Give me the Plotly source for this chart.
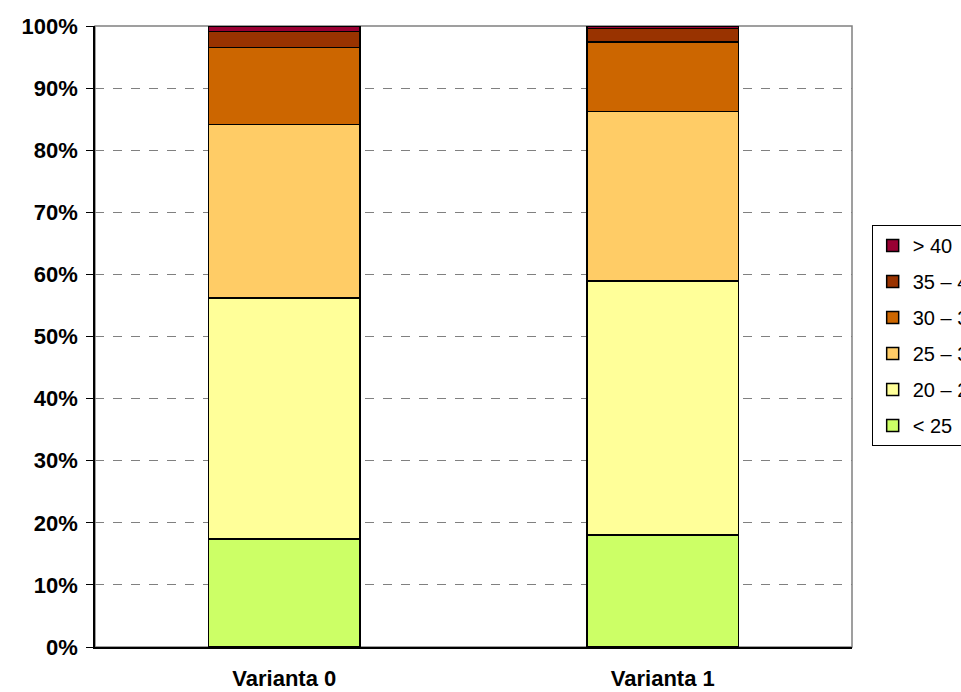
import plotly.graph_objects as go

categories = ["Varianta 0", "Varianta 1"]
series_names = ["< 25", "20 – 25", "25 – 30", "30 – 35", "35 – 40", "> 40"]
values_lt25 = [17.4, 18.0]
values_20_25 = [38.8, 40.9]
values_25_30 = [27.9, 27.3]
values_30_35 = [12.4, 11.2]
values_35_40 = [2.6, 2.2]
values_gt40 = [0.9, 0.4]
colors = ["#CCFF66", "#FFFF99", "#FFCC66", "#CC6600", "#993300", "#990033"]
y_tick_vals = [0, 10, 20, 30, 40, 50, 60, 70, 80, 90, 100]
y_tick_text = ["0%", "10%", "20%", "30%", "40%", "50%", "60%", "70%", "80%", "90%", "100%"]

all_values = [values_lt25, values_20_25, values_25_30, values_30_35, values_35_40, values_gt40]

fig = go.Figure()
n = len(series_names)
for i, (name, vals, col) in enumerate(zip(series_names, all_values, colors)):
    fig.add_trace(go.Bar(
        x=categories, y=vals, name=name, legendgroup=name,
        legendrank=n - i,
        marker=dict(color=col, line=dict(color="black", width=1.5)),
        width=0.4,
    ))

FONT = "Liberation Sans, Arial, sans-serif"
fig.update_layout(
    barmode="stack",
    width=961, height=692,
    margin=dict(l=95, r=109, t=26, b=45, autoexpand=False),
    paper_bgcolor="white", plot_bgcolor="white",
    font=dict(family=FONT, color="black"),
    showlegend=True,
    legend=dict(
        x=1.026, y=0.6795, xanchor="left", yanchor="top",
        traceorder="grouped", tracegroupgap=7,
        bordercolor="black", borderwidth=1, bgcolor="white",
        font=dict(family=FONT, size=20, color="black"),
        itemwidth=30,
    ),
    xaxis=dict(
        showline=True, linecolor="black", linewidth=1.5,
        tickfont=dict(family=FONT, size=22, color="black", weight="bold"),
        showgrid=False, ticks="", mirror=False,
        range=[-0.5, 1.5], ticklabelstandoff=11,
    ),
    yaxis=dict(
        range=[0, 100], tickvals=y_tick_vals, ticktext=y_tick_text,
        showline=True, linecolor="black", linewidth=1.5,
        ticks="outside", ticklen=7, tickcolor="black",
        showgrid=True, gridcolor="#808080", griddash="dash", gridwidth=1,
        tickfont=dict(family=FONT, size=22, color="black", weight="bold"),
        zeroline=False, ticklabelstandoff=4,
    ),
    shapes=[dict(type="rect", xref="paper", yref="paper", x0=0, x1=1, y0=0, y1=1,
                 line=dict(color="#808080", width=1.5), layer="below")],
)

fig.write_html("out.html")
